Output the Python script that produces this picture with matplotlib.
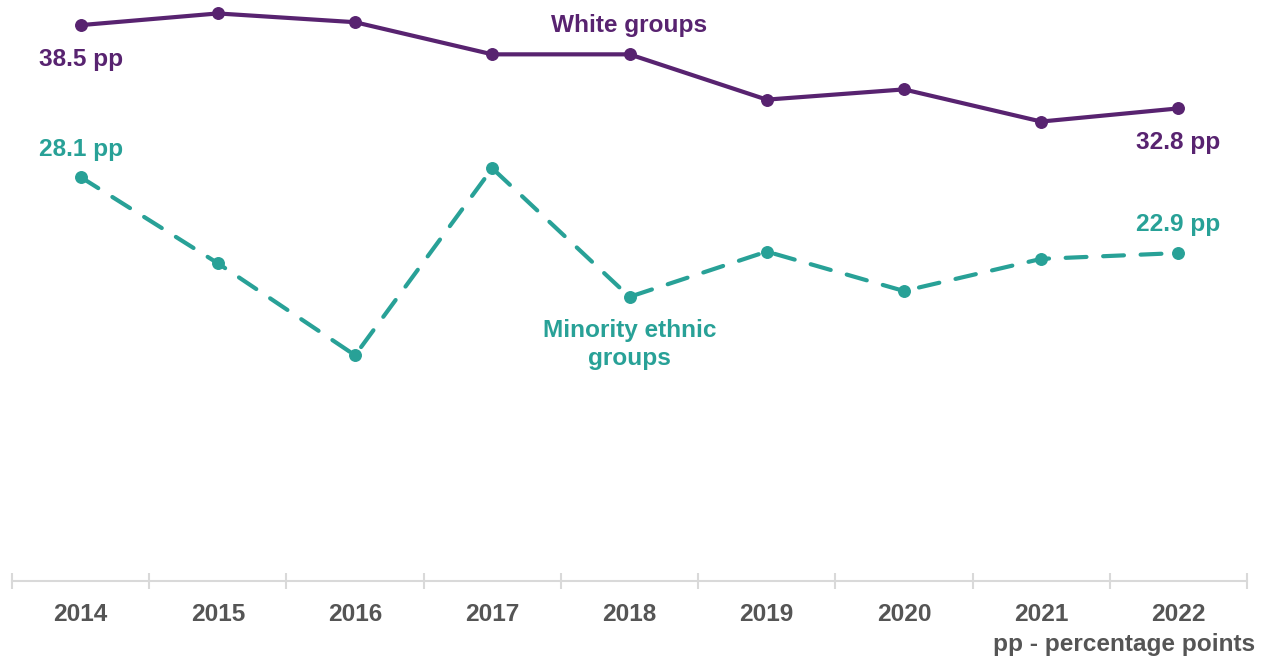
import matplotlib
matplotlib.use('Agg')
from matplotlib import pyplot as plt
from matplotlib.ticker import FixedLocator, NullFormatter

years = ['2014', '2015', '2016', '2017', '2018', '2019', '2020', '2021', '2022']
white = [38.5, 39.3, 38.7, 36.5, 36.5, 33.4, 34.1, 31.9, 32.8]
minority = [28.1, 22.2, 15.9, 28.7, 19.9, 23.0, 20.3, 22.5, 22.9]

purple = '#582370'
teal = '#28A197'
grey = '#555555'
fs = 17.6

plt.rcParams['font.family'] = ['Liberation Sans', 'DejaVu Sans']

fig = plt.figure(figsize=(12.68, 6.58), dpi=100)
ax = fig.add_axes([12 / 1268, 1 - 581 / 658, 1235 / 1268, 581 / 658])

x = list(range(len(years)))
ax.plot(x, white, color=purple, lw=3, marker='o', ms=8.3, solid_capstyle='round')
ax.plot(x, minority, color=teal, lw=3, marker='o', ms=8.3,
        linestyle=(0, (5, 4)), dash_capstyle='round')

ax.set_xlim(-0.5, len(years) - 0.5)
ax.set_ylim(0.45, 40.22)

# labels at the first and last points
lab = dict(fontsize=fs, fontweight='bold', ha='center', va='center', textcoords='offset points')
ax.annotate(f'{white[0]} pp', (0, white[0]), xytext=(0, -25), color=purple, **lab)
ax.annotate(f'{white[-1]} pp', (8, white[-1]), xytext=(0, -24.5), color=purple, **lab)
ax.annotate(f'{minority[0]} pp', (0, minority[0]), xytext=(0, 19.5), color=teal, **lab)
ax.annotate(f'{minority[-1]} pp', (8, minority[-1]), xytext=(0, 20.5), color=teal, **lab)

ax.text(4, 38.45, 'White groups', color=purple, fontsize=fs, fontweight='bold',
        ha='center', va='center')
ax.text(4, 16.65, 'Minority ethnic\ngroups', color=teal, fontsize=fs, fontweight='bold',
        ha='center', va='center', linespacing=1.25)

# axis: boundary ticks between categories, labels in the middle
for s in ['top', 'right', 'left']:
    ax.spines[s].set_visible(False)
ax.spines['bottom'].set_color('#D9D9D9')
ax.spines['bottom'].set_linewidth(1.5)
ax.set_yticks([])
ax.xaxis.set_major_locator(FixedLocator([i - 0.5 for i in range(len(years) + 1)]))
ax.xaxis.set_major_formatter(NullFormatter())
ax.xaxis.set_minor_locator(FixedLocator(x))
ax.set_xticklabels(years, minor=True)
ax.tick_params(axis='x', which='major', direction='inout', length=11, width=1.5, color='#D9D9D9')
ax.tick_params(axis='x', which='minor', length=0, pad=16, labelsize=fs, labelcolor=grey)
for t in ax.get_xticklabels(minor=True):
    t.set_fontweight('bold')

fig.text(1255 / 1268, 1 - 644 / 658, 'pp - percentage points', color=grey, fontsize=fs,
         fontweight='bold', ha='right', va='center')

fig.savefig('out.png', dpi=100)
